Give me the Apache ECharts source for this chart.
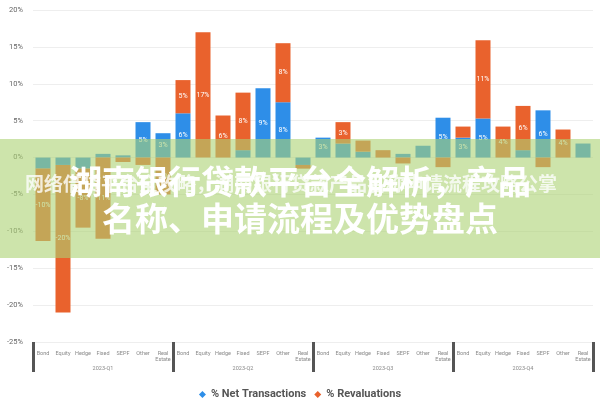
<!DOCTYPE html>
<html><head><meta charset="utf-8">
<script src="https://cdn.jsdelivr.net/npm/echarts@6/dist/echarts.min.js"></script>
<style>html,body{margin:0;padding:0;background:#fff}#c{width:600px;height:400px}</style>
</head><body><div id="c"></div>
<script>
const categories = ["Bond","Equity","Hedge","Fixed","SEPF","Other","Real\nEstate"];
const quarters = ["2023-Q1","2023-Q2","2023-Q3","2023-Q4"];
const netTransactions = [
  -1.5, -1, -1.5, 0.5, 0.3, 4.8, 3.3,
  6.0, 0, 0, 1, 9.4, 7.5, -1,
  2.7, 1.9, 0.8, 0, 0.5, 1.6, 5.4,
  2.7, 5.3, 0, 1, 6.4, 0, 1.9
];
const revaluations = [
  -9.8, -20, -8, -11, -0.6, -1, -5,
  4.5, 17, 5.7, 7.8, 0, 8, -0.5,
  0, 2.9, 1.5, 1, -0.8, 0, -1.3,
  1.5, 10.6, 4.2, 6, -1.3, 3.8, 0
];
const yTicks = {min: -25, max: 20, interval: 5};
const seriesNames = ["% Net Transactions", "% Revaluations"];
const titleLine1 = "湖南银行贷款平台全解析，产品";
const titleLine2 = "名称、申请流程及优势盘点";
const ghostText = "网络借贷平台全攻略，湖南银行贷款产品名称申请流程攻略公掌";

const xLabels = [];
quarters.forEach(() => categories.forEach(c => xLabels.push(c)));

const chart = echarts.init(document.getElementById('c'));
const lbl = {
  show: true, color: '#fff', fontSize: 7, fontFamily: 'Roboto',
  formatter: p => Math.abs(p.value) >= 2 ? Math.round(p.value) + '%' : ''
};
chart.setOption({
  animation: false,
  grid: {left: 33, right: 7, top: 10, bottom: 58},
  legend: {
    top: 384, left: 'center', icon: 'diamond', itemWidth: 7, itemHeight: 7, itemGap: 8,
    textStyle: {fontSize: 11, fontWeight: 'bold', color: '#555', fontFamily: 'Roboto'},
    data: seriesNames
  },
  xAxis: [
    {type: 'category', data: xLabels, position: 'bottom',
     axisLine: {show: false}, axisTick: {show: false},
     axisLabel: {interval: 0, fontSize: 5.5, color: '#888', margin: 9, lineHeight: 6, fontFamily: 'Roboto'}},
    {type: 'category', data: quarters, position: 'bottom',
     axisLine: {show: false},
     axisTick: {show: true, length: 30, interval: 0, lineStyle: {color: '#555', width: 3}},
     axisLabel: {interval: 0, fontSize: 5.5, color: '#888', margin: 24, fontFamily: 'Roboto'}}
  ],
  yAxis: {
    type: 'value', min: yTicks.min, max: yTicks.max, interval: yTicks.interval,
    axisLine: {show: false}, axisTick: {show: false},
    axisLabel: {formatter: '{value}%', fontSize: 7.5, color: '#666', margin: 10, fontFamily: 'Roboto'},
    splitLine: {lineStyle: {color: '#eeeeee', width: 1}}
  },
  series: [
    {name: seriesNames[0], type: 'bar', stack: 'total', xAxisIndex: 0, barWidth: 15,
     data: netTransactions, itemStyle: {color: '#2e8ee8'}, label: lbl},
    {name: seriesNames[1], type: 'bar', stack: 'total', xAxisIndex: 0, barWidth: 15,
     data: revaluations, itemStyle: {color: '#e9622d'}, label: lbl}
  ],
  graphic: [
    {type: 'rect', left: 0, top: 139, z: 100, shape: {width: 600, height: 119},
     style: {fill: 'rgba(172,210,115,0.6)'}},
    {type: 'text', left: 25, top: 174, z: 101,
     style: {text: ghostText, fontSize: 19, fontWeight: 'bold', fill: 'rgba(255,255,255,0.8)',
             fontFamily: 'Noto Sans CJK SC'}},
    {type: 'text', left: 'center', top: 165, z: 102,
     style: {text: titleLine1, fontSize: 33, fontWeight: 'bold', fill: '#ffffff',
             fontFamily: 'Noto Sans CJK SC', shadowColor: 'rgba(0,0,0,0.15)', shadowBlur: 2}},
    {type: 'text', left: 'center', top: 202, z: 102,
     style: {text: titleLine2, fontSize: 33, fontWeight: 'bold', fill: '#ffffff',
             fontFamily: 'Noto Sans CJK SC', shadowColor: 'rgba(0,0,0,0.15)', shadowBlur: 2}}
  ]
});
</script></body></html>
